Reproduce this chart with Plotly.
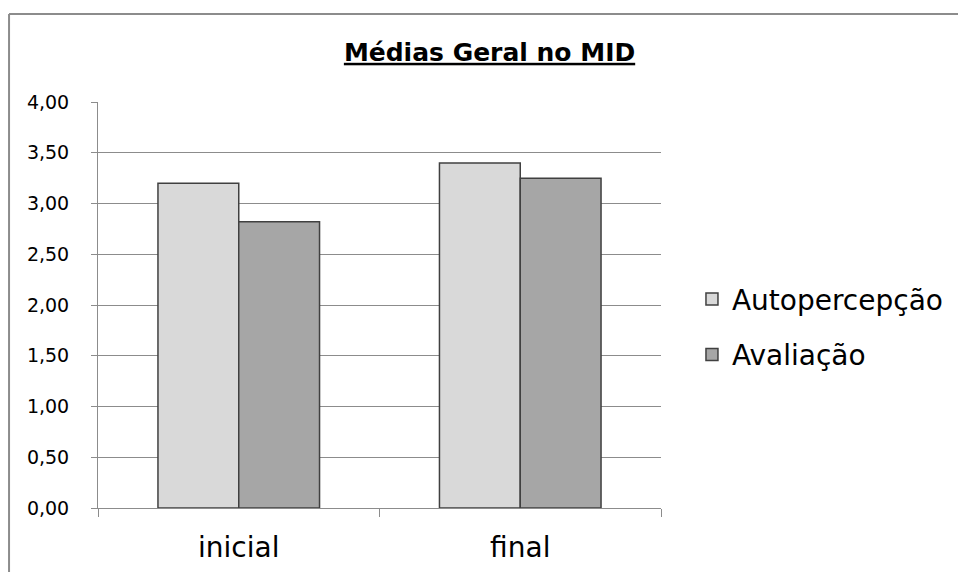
import plotly.graph_objects as go

# Survey means, before and after
categories = ["inicial", "final"]
autopercepcao = [3.20, 3.40]
avaliacao = [2.82, 3.25]
series_names = ["Autopercepção", "Avaliação"]
y_ticks = [0, 0.5, 1, 1.5, 2, 2.5, 3, 3.5, 4]
y_tick_labels = ["0,00", "0,50", "1,00", "1,50", "2,00", "2,50", "3,00", "3,50", "4,00"]

FONT = "DejaVu Sans"
OUTLINE = "#404040"

fig = go.Figure()
fig.add_trace(go.Bar(
    x=categories, y=autopercepcao, name=series_names[0],
    marker=dict(color="#D9D9D9", line=dict(color=OUTLINE, width=1.5)),
    legendgroup="a",
))
fig.add_trace(go.Bar(
    x=categories, y=avaliacao, name=series_names[1],
    marker=dict(color="#A6A6A6", line=dict(color=OUTLINE, width=1.5)),
    legendgroup="b",
))

# Frame around the chart (top and left edges)
frame = dict(type="line", xref="paper", yref="paper",
             line=dict(color="#8C8C8C", width=2), layer="above")
fig.add_shape(**frame, x0=-0.158, x1=1.7, y0=1.2167, y1=1.2167)
fig.add_shape(**frame, x0=-0.158, x1=-0.158, y0=-0.3, y1=1.2167)

fig.update_layout(
    width=958, height=572,
    margin=dict(l=98, r=297, t=102, b=64, autoexpand=False),
    paper_bgcolor="white", plot_bgcolor="white",
    font=dict(family=FONT, color="#000000"),
    title=dict(text="<b><u>Médias Geral no MID</u></b>", xref="container", yref="container",
               x=0.511, xanchor="center", y=0.909, yanchor="middle",
               font=dict(family=FONT, size=25, color="#000000")),
    bargap=0.426, bargroupgap=0,
    showlegend=True,
    legend=dict(x=1.055, xanchor="left", y=0.446, yanchor="middle",
                font=dict(family=FONT, size=28, color="#000000"),
                traceorder="grouped", tracegroupgap=16,
                bgcolor="rgba(0,0,0,0)"),
    xaxis=dict(
        type="category", showgrid=False, automargin=False,
        showline=True, linecolor="#8C8C8C", linewidth=1,
        ticks="outside", tickson="boundaries", ticklen=8, tickcolor="#8C8C8C",
        tickfont=dict(family=FONT, size=28, color="#000000"),
        ticklabelstandoff=14,
    ),
    yaxis=dict(
        range=[0, 4], tickvals=y_ticks, ticktext=y_tick_labels, automargin=False,
        showgrid=True, gridcolor="#8C8C8C", gridwidth=1,
        showline=True, linecolor="#8C8C8C", linewidth=1,
        ticks="outside", ticklen=6, tickcolor="#8C8C8C",
        tickfont=dict(family=FONT, size=19, color="#000000"),
        ticklabelstandoff=18,
        zeroline=False,
    ),
)

fig.write_html("out.html")
